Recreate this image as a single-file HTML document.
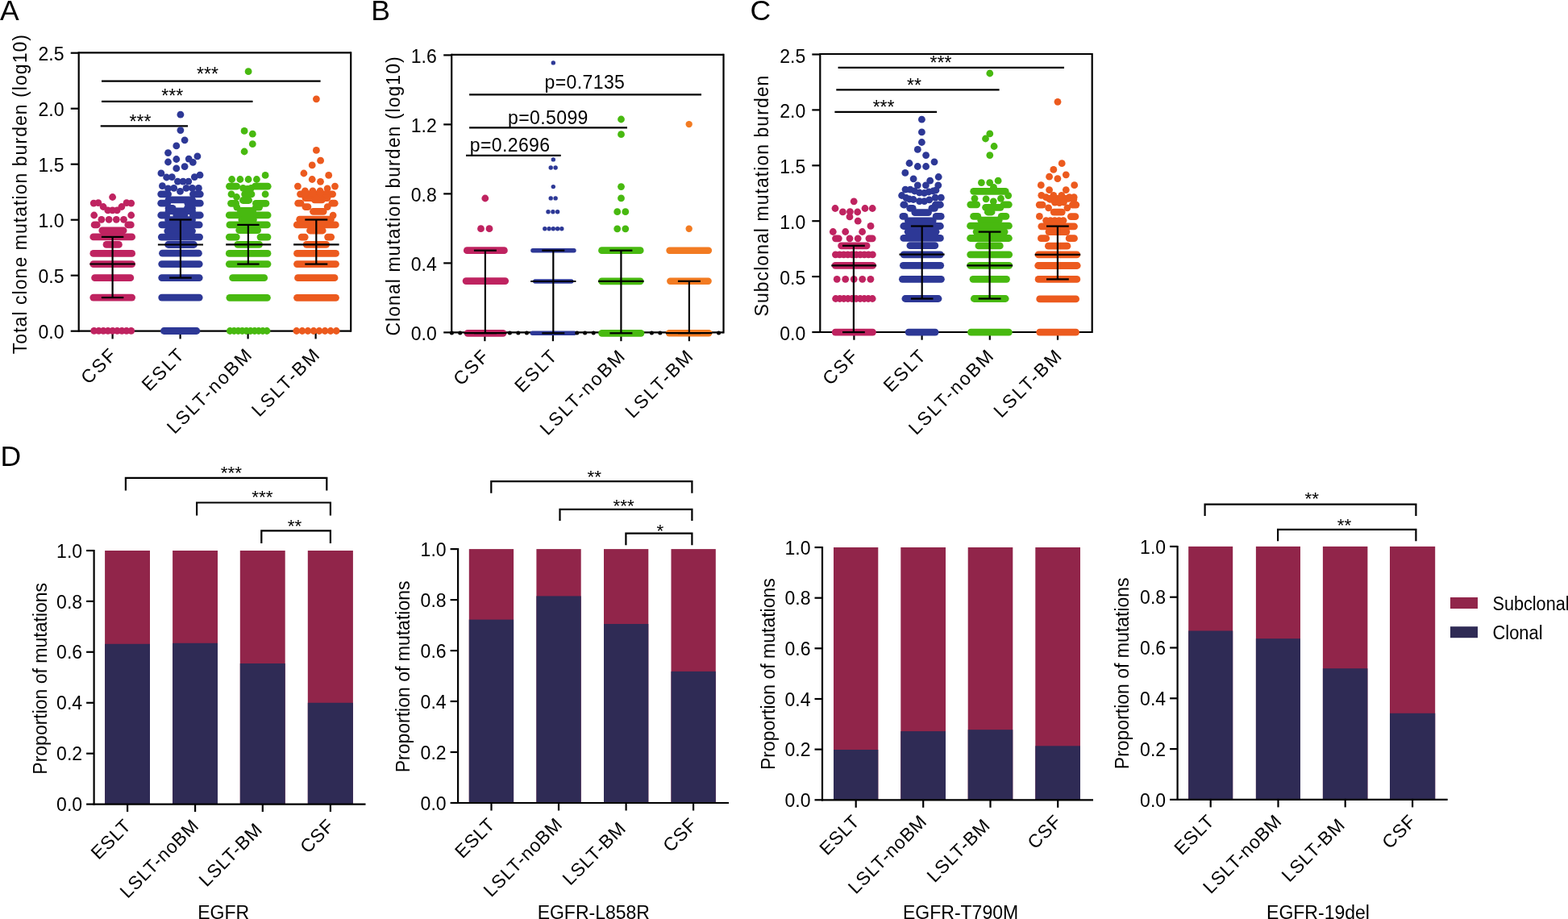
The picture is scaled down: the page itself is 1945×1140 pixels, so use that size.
<!DOCTYPE html>
<html><head><meta charset="utf-8"><style>
html,body{margin:0;padding:0;background:#fff;}
svg{display:block;}
text{font-family:"Liberation Sans", Arial, Helvetica, sans-serif;fill:#000;}
</style></head><body>
<svg width="1945" height="1140" viewBox="0 0 1945 1140">
<rect width="1945" height="1140" fill="#fff"/>
<line x1="97.7" y1="65.3" x2="435.2" y2="65.3" stroke="#000" stroke-width="2.2" stroke-linecap="butt"/>
<line x1="435.2" y1="64.2" x2="435.2" y2="411.8" stroke="#000" stroke-width="2.2" stroke-linecap="butt"/>
<line x1="97.7" y1="410.7" x2="435.2" y2="410.7" stroke="#000" stroke-width="2.2" stroke-linecap="butt"/>
<line x1="97.7" y1="64.2" x2="97.7" y2="411.8" stroke="#000" stroke-width="2.2" stroke-linecap="butt"/>
<line x1="87.7" y1="410.7" x2="97.7" y2="410.7" stroke="#000" stroke-width="2.2" stroke-linecap="butt"/>
<text x="79.5" y="419.9" font-size="23" text-anchor="end">0.0</text>
<line x1="87.7" y1="341.7" x2="97.7" y2="341.7" stroke="#000" stroke-width="2.2" stroke-linecap="butt"/>
<text x="79.5" y="350.9" font-size="23" text-anchor="end">0.5</text>
<line x1="87.7" y1="272.7" x2="97.7" y2="272.7" stroke="#000" stroke-width="2.2" stroke-linecap="butt"/>
<text x="79.5" y="281.9" font-size="23" text-anchor="end">1.0</text>
<line x1="87.7" y1="203.7" x2="97.7" y2="203.7" stroke="#000" stroke-width="2.2" stroke-linecap="butt"/>
<text x="79.5" y="212.9" font-size="23" text-anchor="end">1.5</text>
<line x1="87.7" y1="134.7" x2="97.7" y2="134.7" stroke="#000" stroke-width="2.2" stroke-linecap="butt"/>
<text x="79.5" y="143.9" font-size="23" text-anchor="end">2.0</text>
<line x1="87.7" y1="65.7" x2="97.7" y2="65.7" stroke="#000" stroke-width="2.2" stroke-linecap="butt"/>
<text x="79.5" y="74.9" font-size="23" text-anchor="end">2.5</text>
<line x1="139.6" y1="410.7" x2="139.6" y2="420.4" stroke="#000" stroke-width="2.2" stroke-linecap="butt"/>
<line x1="223.6" y1="410.7" x2="223.6" y2="420.4" stroke="#000" stroke-width="2.2" stroke-linecap="butt"/>
<line x1="307.6" y1="410.7" x2="307.6" y2="420.4" stroke="#000" stroke-width="2.2" stroke-linecap="butt"/>
<line x1="391.6" y1="410.7" x2="391.6" y2="420.4" stroke="#000" stroke-width="2.2" stroke-linecap="butt"/>
<text x="33.2" y="240.6" font-size="23" text-anchor="middle" transform="rotate(-90 33.2 240.6)" letter-spacing="1.05">Total clone mutation burden (log10)</text>
<text x="0.0" y="24.9" font-size="35.5" text-anchor="start">A</text>
<text x="147.0" y="440.6" font-size="23" text-anchor="end" transform="rotate(-45 147.0 440.6)" letter-spacing="2.2">CSF</text>
<text x="231.0" y="440.6" font-size="23" text-anchor="end" transform="rotate(-45 231.0 440.6)" letter-spacing="2.2">ESLT</text>
<text x="315.1" y="440.6" font-size="23" text-anchor="end" transform="rotate(-45 315.1 440.6)" letter-spacing="2.2">LSLT-noBM</text>
<text x="399.1" y="440.6" font-size="23" text-anchor="end" transform="rotate(-45 399.1 440.6)" letter-spacing="2.2">LSLT-BM</text>
<line x1="124.7" y1="156.3" x2="233.0" y2="156.3" stroke="#000" stroke-width="2.2" stroke-linecap="butt"/>
<text x="174.0" y="159.0" font-size="23" text-anchor="middle">***</text>
<line x1="126.0" y1="125.8" x2="313.5" y2="125.8" stroke="#000" stroke-width="2.2" stroke-linecap="butt"/>
<text x="213.8" y="126.9" font-size="23" text-anchor="middle">***</text>
<line x1="126.0" y1="100.6" x2="397.6" y2="100.6" stroke="#000" stroke-width="2.2" stroke-linecap="butt"/>
<text x="257.5" y="100.2" font-size="23" text-anchor="middle">***</text>
<line x1="560.2" y1="67.8" x2="897.5" y2="67.8" stroke="#000" stroke-width="2.2" stroke-linecap="butt"/>
<line x1="897.5" y1="66.7" x2="897.5" y2="413.5" stroke="#000" stroke-width="2.2" stroke-linecap="butt"/>
<line x1="560.2" y1="412.4" x2="897.5" y2="412.4" stroke="#000" stroke-width="2.2" stroke-linecap="butt"/>
<line x1="560.2" y1="66.7" x2="560.2" y2="413.5" stroke="#000" stroke-width="2.2" stroke-linecap="butt"/>
<line x1="550.2" y1="412.4" x2="560.2" y2="412.4" stroke="#000" stroke-width="2.2" stroke-linecap="butt"/>
<text x="541.8" y="421.6" font-size="23" text-anchor="end">0.0</text>
<line x1="550.2" y1="326.4" x2="560.2" y2="326.4" stroke="#000" stroke-width="2.2" stroke-linecap="butt"/>
<text x="541.8" y="335.6" font-size="23" text-anchor="end">0.4</text>
<line x1="550.2" y1="240.4" x2="560.2" y2="240.4" stroke="#000" stroke-width="2.2" stroke-linecap="butt"/>
<text x="541.8" y="249.6" font-size="23" text-anchor="end">0.8</text>
<line x1="550.2" y1="154.4" x2="560.2" y2="154.4" stroke="#000" stroke-width="2.2" stroke-linecap="butt"/>
<text x="541.8" y="163.6" font-size="23" text-anchor="end">1.2</text>
<line x1="550.2" y1="68.4" x2="560.2" y2="68.4" stroke="#000" stroke-width="2.2" stroke-linecap="butt"/>
<text x="541.8" y="77.6" font-size="23" text-anchor="end">1.6</text>
<line x1="601.4" y1="412.4" x2="601.4" y2="423.2" stroke="#000" stroke-width="2.2" stroke-linecap="butt"/>
<line x1="685.9" y1="412.4" x2="685.9" y2="423.2" stroke="#000" stroke-width="2.2" stroke-linecap="butt"/>
<line x1="770.4" y1="412.4" x2="770.4" y2="423.2" stroke="#000" stroke-width="2.2" stroke-linecap="butt"/>
<line x1="854.9" y1="412.4" x2="854.9" y2="423.2" stroke="#000" stroke-width="2.2" stroke-linecap="butt"/>
<text x="496.1" y="242.9" font-size="23" text-anchor="middle" transform="rotate(-90 496.1 242.9)" letter-spacing="1.05">Clonal mutation burden (log10)</text>
<text x="460.3" y="24.9" font-size="35.5" text-anchor="start">B</text>
<text x="608.9" y="442.3" font-size="23" text-anchor="end" transform="rotate(-45 608.9 442.3)" letter-spacing="2.2">CSF</text>
<text x="693.4" y="442.3" font-size="23" text-anchor="end" transform="rotate(-45 693.4 442.3)" letter-spacing="2.2">ESLT</text>
<text x="777.9" y="442.3" font-size="23" text-anchor="end" transform="rotate(-45 777.9 442.3)" letter-spacing="2.2">LSLT-noBM</text>
<text x="862.4" y="442.3" font-size="23" text-anchor="end" transform="rotate(-45 862.4 442.3)" letter-spacing="2.2">LSLT-BM</text>
<line x1="578.0" y1="192.9" x2="695.7" y2="192.9" stroke="#000" stroke-width="2.2" stroke-linecap="butt"/>
<text x="582.7" y="188.0" font-size="23" text-anchor="start" letter-spacing="0.4">p=0.2696</text>
<line x1="582.1" y1="158.3" x2="778.0" y2="158.3" stroke="#000" stroke-width="2.2" stroke-linecap="butt"/>
<text x="630.0" y="154.0" font-size="23" text-anchor="start" letter-spacing="0.4">p=0.5099</text>
<line x1="582.1" y1="117.3" x2="870.0" y2="117.3" stroke="#000" stroke-width="2.2" stroke-linecap="butt"/>
<text x="675.5" y="110.0" font-size="23" text-anchor="start" letter-spacing="0.4">p=0.7135</text>
<line x1="1017.3" y1="67.0" x2="1354.7" y2="67.0" stroke="#000" stroke-width="2.2" stroke-linecap="butt"/>
<line x1="1354.7" y1="65.9" x2="1354.7" y2="413.1" stroke="#000" stroke-width="2.2" stroke-linecap="butt"/>
<line x1="1017.3" y1="412.0" x2="1354.7" y2="412.0" stroke="#000" stroke-width="2.2" stroke-linecap="butt"/>
<line x1="1017.3" y1="65.9" x2="1017.3" y2="413.1" stroke="#000" stroke-width="2.2" stroke-linecap="butt"/>
<line x1="1007.3" y1="412.0" x2="1017.3" y2="412.0" stroke="#000" stroke-width="2.2" stroke-linecap="butt"/>
<text x="999.2" y="422.0" font-size="23" text-anchor="end">0.0</text>
<line x1="1007.3" y1="343.1" x2="1017.3" y2="343.1" stroke="#000" stroke-width="2.2" stroke-linecap="butt"/>
<text x="999.2" y="353.1" font-size="23" text-anchor="end">0.5</text>
<line x1="1007.3" y1="274.2" x2="1017.3" y2="274.2" stroke="#000" stroke-width="2.2" stroke-linecap="butt"/>
<text x="999.2" y="284.2" font-size="23" text-anchor="end">1.0</text>
<line x1="1007.3" y1="205.3" x2="1017.3" y2="205.3" stroke="#000" stroke-width="2.2" stroke-linecap="butt"/>
<text x="999.2" y="215.3" font-size="23" text-anchor="end">1.5</text>
<line x1="1007.3" y1="136.4" x2="1017.3" y2="136.4" stroke="#000" stroke-width="2.2" stroke-linecap="butt"/>
<text x="999.2" y="146.4" font-size="23" text-anchor="end">2.0</text>
<line x1="1007.3" y1="67.5" x2="1017.3" y2="67.5" stroke="#000" stroke-width="2.2" stroke-linecap="butt"/>
<text x="999.2" y="77.5" font-size="23" text-anchor="end">2.5</text>
<line x1="1059.4" y1="412.0" x2="1059.4" y2="421.7" stroke="#000" stroke-width="2.2" stroke-linecap="butt"/>
<line x1="1143.6" y1="412.0" x2="1143.6" y2="421.7" stroke="#000" stroke-width="2.2" stroke-linecap="butt"/>
<line x1="1227.8" y1="412.0" x2="1227.8" y2="421.7" stroke="#000" stroke-width="2.2" stroke-linecap="butt"/>
<line x1="1312.0" y1="412.0" x2="1312.0" y2="421.7" stroke="#000" stroke-width="2.2" stroke-linecap="butt"/>
<text x="953.2" y="242.5" font-size="23" text-anchor="middle" transform="rotate(-90 953.2 242.5)" letter-spacing="1.05">Subclonal mutation burden</text>
<text x="930.5" y="24.9" font-size="35.5" text-anchor="start">C</text>
<text x="1066.9" y="441.9" font-size="23" text-anchor="end" transform="rotate(-45 1066.9 441.9)" letter-spacing="2.2">CSF</text>
<text x="1151.0" y="441.9" font-size="23" text-anchor="end" transform="rotate(-45 1151.0 441.9)" letter-spacing="2.2">ESLT</text>
<text x="1235.2" y="441.9" font-size="23" text-anchor="end" transform="rotate(-45 1235.2 441.9)" letter-spacing="2.2">LSLT-noBM</text>
<text x="1319.5" y="441.9" font-size="23" text-anchor="end" transform="rotate(-45 1319.5 441.9)" letter-spacing="2.2">LSLT-BM</text>
<line x1="1035.4" y1="138.8" x2="1162.1" y2="138.8" stroke="#000" stroke-width="2.2" stroke-linecap="butt"/>
<text x="1096.1" y="141.3" font-size="23" text-anchor="middle">***</text>
<line x1="1037.3" y1="111.4" x2="1239.6" y2="111.4" stroke="#000" stroke-width="2.2" stroke-linecap="butt"/>
<text x="1134.0" y="114.3" font-size="23" text-anchor="middle">**</text>
<line x1="1039.6" y1="83.8" x2="1320.0" y2="83.8" stroke="#000" stroke-width="2.2" stroke-linecap="butt"/>
<text x="1167.0" y="85.8" font-size="23" text-anchor="middle">***</text>
<rect x="130.1" y="683.0" width="55.9" height="314.6" fill="#91254a"/>
<rect x="130.1" y="798.8" width="55.9" height="198.8" fill="#2f2b55"/>
<rect x="214.1" y="683.0" width="55.9" height="314.6" fill="#91254a"/>
<rect x="214.1" y="797.8" width="55.9" height="199.8" fill="#2f2b55"/>
<rect x="297.8" y="683.0" width="55.9" height="314.6" fill="#91254a"/>
<rect x="297.8" y="823.0" width="55.9" height="174.6" fill="#2f2b55"/>
<rect x="381.8" y="683.0" width="56.1" height="314.6" fill="#91254a"/>
<rect x="381.8" y="871.8" width="56.1" height="125.8" fill="#2f2b55"/>
<line x1="116.6" y1="682.0" x2="116.6" y2="998.7" stroke="#000" stroke-width="2.2" stroke-linecap="butt"/>
<line x1="115.6" y1="997.6" x2="453.5" y2="997.6" stroke="#000" stroke-width="2.2" stroke-linecap="butt"/>
<line x1="107.1" y1="997.6" x2="116.6" y2="997.6" stroke="#000" stroke-width="2.2" stroke-linecap="butt"/>
<text x="102.1" y="1006.2" font-size="23" text-anchor="end">0.0</text>
<line x1="107.1" y1="934.7" x2="116.6" y2="934.7" stroke="#000" stroke-width="2.2" stroke-linecap="butt"/>
<text x="102.1" y="943.3" font-size="23" text-anchor="end">0.2</text>
<line x1="107.1" y1="871.8" x2="116.6" y2="871.8" stroke="#000" stroke-width="2.2" stroke-linecap="butt"/>
<text x="102.1" y="880.4" font-size="23" text-anchor="end">0.4</text>
<line x1="107.1" y1="808.8" x2="116.6" y2="808.8" stroke="#000" stroke-width="2.2" stroke-linecap="butt"/>
<text x="102.1" y="817.4" font-size="23" text-anchor="end">0.6</text>
<line x1="107.1" y1="745.9" x2="116.6" y2="745.9" stroke="#000" stroke-width="2.2" stroke-linecap="butt"/>
<text x="102.1" y="754.5" font-size="23" text-anchor="end">0.8</text>
<line x1="107.1" y1="683.0" x2="116.6" y2="683.0" stroke="#000" stroke-width="2.2" stroke-linecap="butt"/>
<text x="102.1" y="691.6" font-size="23" text-anchor="end">1.0</text>
<line x1="158.1" y1="997.6" x2="158.1" y2="1007.1" stroke="#000" stroke-width="2.2" stroke-linecap="butt"/>
<line x1="242.1" y1="997.6" x2="242.1" y2="1007.1" stroke="#000" stroke-width="2.2" stroke-linecap="butt"/>
<line x1="325.8" y1="997.6" x2="325.8" y2="1007.1" stroke="#000" stroke-width="2.2" stroke-linecap="butt"/>
<line x1="409.9" y1="997.6" x2="409.9" y2="1007.1" stroke="#000" stroke-width="2.2" stroke-linecap="butt"/>
<text x="164.1" y="1025.6" font-size="23" text-anchor="end" transform="rotate(-45 164.1 1025.6)" letter-spacing="0.8">ESLT</text>
<text x="248.1" y="1025.6" font-size="23" text-anchor="end" transform="rotate(-45 248.1 1025.6)" letter-spacing="0.8">LSLT-noBM</text>
<text x="326.9" y="1030.4" font-size="23" text-anchor="end" transform="rotate(-45 326.9 1030.4)" letter-spacing="0.8">LSLT-BM</text>
<text x="415.9" y="1025.6" font-size="23" text-anchor="end" transform="rotate(-45 415.9 1025.6)" letter-spacing="0.8">CSF</text>
<text x="277.2" y="1139.5" font-size="23" text-anchor="middle">EGFR</text>
<text x="57.6" y="960.7" font-size="23" text-anchor="start" transform="rotate(-90 57.6 960.7)">Proportion of mutations</text>
<polyline points="155.9,608.6 155.9,592.9 405.3,592.9 405.3,608.6" fill="none" stroke="#000" stroke-width="2.2" stroke-linejoin="miter"/>
<text x="287.0" y="593.8" font-size="22.5" text-anchor="middle">***</text>
<polyline points="244.1,639.4 244.1,623.5 409.9,623.5 409.9,639.4" fill="none" stroke="#000" stroke-width="2.2" stroke-linejoin="miter"/>
<text x="325.5" y="623.8" font-size="22.5" text-anchor="middle">***</text>
<polyline points="324.3,674.1 324.3,658.3 409.9,658.3 409.9,674.1" fill="none" stroke="#000" stroke-width="2.2" stroke-linejoin="miter"/>
<text x="365.6" y="660.3" font-size="22.5" text-anchor="middle">**</text>
<rect x="581.8" y="681.1" width="55.3" height="314.9" fill="#91254a"/>
<rect x="581.8" y="768.6" width="55.3" height="227.4" fill="#2f2b55"/>
<rect x="665.4" y="681.1" width="55.3" height="314.9" fill="#91254a"/>
<rect x="665.4" y="739.4" width="55.3" height="256.6" fill="#2f2b55"/>
<rect x="749.0" y="681.1" width="55.3" height="314.9" fill="#91254a"/>
<rect x="749.0" y="774.0" width="55.3" height="222.0" fill="#2f2b55"/>
<rect x="832.5" y="681.1" width="55.3" height="314.9" fill="#91254a"/>
<rect x="832.5" y="832.9" width="55.3" height="163.1" fill="#2f2b55"/>
<line x1="568.1" y1="680.1" x2="568.1" y2="997.1" stroke="#000" stroke-width="2.2" stroke-linecap="butt"/>
<line x1="567.1" y1="996.0" x2="904.0" y2="996.0" stroke="#000" stroke-width="2.2" stroke-linecap="butt"/>
<line x1="558.6" y1="996.0" x2="568.1" y2="996.0" stroke="#000" stroke-width="2.2" stroke-linecap="butt"/>
<text x="553.6" y="1004.6" font-size="23" text-anchor="end">0.0</text>
<line x1="558.6" y1="933.0" x2="568.1" y2="933.0" stroke="#000" stroke-width="2.2" stroke-linecap="butt"/>
<text x="553.6" y="941.6" font-size="23" text-anchor="end">0.2</text>
<line x1="558.6" y1="870.0" x2="568.1" y2="870.0" stroke="#000" stroke-width="2.2" stroke-linecap="butt"/>
<text x="553.6" y="878.6" font-size="23" text-anchor="end">0.4</text>
<line x1="558.6" y1="807.1" x2="568.1" y2="807.1" stroke="#000" stroke-width="2.2" stroke-linecap="butt"/>
<text x="553.6" y="815.7" font-size="23" text-anchor="end">0.6</text>
<line x1="558.6" y1="744.1" x2="568.1" y2="744.1" stroke="#000" stroke-width="2.2" stroke-linecap="butt"/>
<text x="553.6" y="752.7" font-size="23" text-anchor="end">0.8</text>
<line x1="558.6" y1="681.1" x2="568.1" y2="681.1" stroke="#000" stroke-width="2.2" stroke-linecap="butt"/>
<text x="553.6" y="689.7" font-size="23" text-anchor="end">1.0</text>
<line x1="609.5" y1="996.0" x2="609.5" y2="1005.5" stroke="#000" stroke-width="2.2" stroke-linecap="butt"/>
<line x1="693.0" y1="996.0" x2="693.0" y2="1005.5" stroke="#000" stroke-width="2.2" stroke-linecap="butt"/>
<line x1="776.6" y1="996.0" x2="776.6" y2="1005.5" stroke="#000" stroke-width="2.2" stroke-linecap="butt"/>
<line x1="860.1" y1="996.0" x2="860.1" y2="1005.5" stroke="#000" stroke-width="2.2" stroke-linecap="butt"/>
<text x="615.5" y="1024.0" font-size="23" text-anchor="end" transform="rotate(-45 615.5 1024.0)" letter-spacing="0.8">ESLT</text>
<text x="699.0" y="1024.0" font-size="23" text-anchor="end" transform="rotate(-45 699.0 1024.0)" letter-spacing="0.8">LSLT-noBM</text>
<text x="777.9" y="1028.8" font-size="23" text-anchor="end" transform="rotate(-45 777.9 1028.8)" letter-spacing="0.8">LSLT-BM</text>
<text x="866.1" y="1024.0" font-size="23" text-anchor="end" transform="rotate(-45 866.1 1024.0)" letter-spacing="0.8">CSF</text>
<text x="736.3" y="1139.5" font-size="23" text-anchor="middle">EGFR-L858R</text>
<text x="507.6" y="958.3" font-size="23" text-anchor="start" transform="rotate(-90 507.6 958.3)">Proportion of mutations</text>
<polyline points="609.3,611.7 609.3,597.1 858.4,597.1 858.4,611.7" fill="none" stroke="#000" stroke-width="2.2" stroke-linejoin="miter"/>
<text x="737.3" y="599.0" font-size="22.5" text-anchor="middle">**</text>
<polyline points="694.5,646.0 694.5,631.9 858.4,631.9 858.4,646.0" fill="none" stroke="#000" stroke-width="2.2" stroke-linejoin="miter"/>
<text x="773.6" y="635.0" font-size="22.5" text-anchor="middle">***</text>
<polyline points="776.4,676.3 776.4,661.7 858.4,661.7 858.4,676.3" fill="none" stroke="#000" stroke-width="2.2" stroke-linejoin="miter"/>
<text x="818.8" y="665.5" font-size="22.5" text-anchor="middle">*</text>
<rect x="1034.0" y="679.0" width="55.3" height="313.3" fill="#91254a"/>
<rect x="1034.0" y="930.0" width="55.3" height="62.3" fill="#2f2b55"/>
<rect x="1117.3" y="679.0" width="55.7" height="313.3" fill="#91254a"/>
<rect x="1117.3" y="907.1" width="55.7" height="85.2" fill="#2f2b55"/>
<rect x="1200.7" y="679.0" width="55.6" height="313.3" fill="#91254a"/>
<rect x="1200.7" y="905.2" width="55.6" height="87.1" fill="#2f2b55"/>
<rect x="1284.3" y="679.0" width="55.7" height="313.3" fill="#91254a"/>
<rect x="1284.3" y="925.3" width="55.7" height="67.0" fill="#2f2b55"/>
<line x1="1020.0" y1="678.0" x2="1020.0" y2="993.4" stroke="#000" stroke-width="2.2" stroke-linecap="butt"/>
<line x1="1019.0" y1="992.3" x2="1356.0" y2="992.3" stroke="#000" stroke-width="2.2" stroke-linecap="butt"/>
<line x1="1010.5" y1="992.3" x2="1020.0" y2="992.3" stroke="#000" stroke-width="2.2" stroke-linecap="butt"/>
<text x="1005.5" y="1000.9" font-size="23" text-anchor="end">0.0</text>
<line x1="1010.5" y1="929.6" x2="1020.0" y2="929.6" stroke="#000" stroke-width="2.2" stroke-linecap="butt"/>
<text x="1005.5" y="938.2" font-size="23" text-anchor="end">0.2</text>
<line x1="1010.5" y1="867.0" x2="1020.0" y2="867.0" stroke="#000" stroke-width="2.2" stroke-linecap="butt"/>
<text x="1005.5" y="875.6" font-size="23" text-anchor="end">0.4</text>
<line x1="1010.5" y1="804.3" x2="1020.0" y2="804.3" stroke="#000" stroke-width="2.2" stroke-linecap="butt"/>
<text x="1005.5" y="812.9" font-size="23" text-anchor="end">0.6</text>
<line x1="1010.5" y1="741.7" x2="1020.0" y2="741.7" stroke="#000" stroke-width="2.2" stroke-linecap="butt"/>
<text x="1005.5" y="750.3" font-size="23" text-anchor="end">0.8</text>
<line x1="1010.5" y1="679.0" x2="1020.0" y2="679.0" stroke="#000" stroke-width="2.2" stroke-linecap="butt"/>
<text x="1005.5" y="687.6" font-size="23" text-anchor="end">1.0</text>
<line x1="1061.7" y1="992.3" x2="1061.7" y2="1001.8" stroke="#000" stroke-width="2.2" stroke-linecap="butt"/>
<line x1="1145.2" y1="992.3" x2="1145.2" y2="1001.8" stroke="#000" stroke-width="2.2" stroke-linecap="butt"/>
<line x1="1228.5" y1="992.3" x2="1228.5" y2="1001.8" stroke="#000" stroke-width="2.2" stroke-linecap="butt"/>
<line x1="1312.2" y1="992.3" x2="1312.2" y2="1001.8" stroke="#000" stroke-width="2.2" stroke-linecap="butt"/>
<text x="1067.7" y="1020.3" font-size="23" text-anchor="end" transform="rotate(-45 1067.7 1020.3)" letter-spacing="0.8">ESLT</text>
<text x="1151.2" y="1020.3" font-size="23" text-anchor="end" transform="rotate(-45 1151.2 1020.3)" letter-spacing="0.8">LSLT-noBM</text>
<text x="1229.7" y="1025.1" font-size="23" text-anchor="end" transform="rotate(-45 1229.7 1025.1)" letter-spacing="0.8">LSLT-BM</text>
<text x="1318.2" y="1020.3" font-size="23" text-anchor="end" transform="rotate(-45 1318.2 1020.3)" letter-spacing="0.8">CSF</text>
<text x="1191.6" y="1139.5" font-size="23" text-anchor="middle">EGFR-T790M</text>
<text x="961.4" y="955.0" font-size="23" text-anchor="start" transform="rotate(-90 961.4 955.0)">Proportion of mutations</text>
<rect x="1474.2" y="677.9" width="55.0" height="314.0" fill="#91254a"/>
<rect x="1474.2" y="782.5" width="55.0" height="209.4" fill="#2f2b55"/>
<rect x="1557.9" y="677.9" width="55.1" height="314.0" fill="#91254a"/>
<rect x="1557.9" y="792.2" width="55.1" height="199.7" fill="#2f2b55"/>
<rect x="1640.9" y="677.9" width="55.5" height="314.0" fill="#91254a"/>
<rect x="1640.9" y="829.2" width="55.5" height="162.7" fill="#2f2b55"/>
<rect x="1724.0" y="677.9" width="56.2" height="314.0" fill="#91254a"/>
<rect x="1724.0" y="884.8" width="56.2" height="107.1" fill="#2f2b55"/>
<line x1="1460.6" y1="676.9" x2="1460.6" y2="993.0" stroke="#000" stroke-width="2.2" stroke-linecap="butt"/>
<line x1="1459.6" y1="991.9" x2="1795.7" y2="991.9" stroke="#000" stroke-width="2.2" stroke-linecap="butt"/>
<line x1="1451.1" y1="991.9" x2="1460.6" y2="991.9" stroke="#000" stroke-width="2.2" stroke-linecap="butt"/>
<text x="1446.1" y="1000.5" font-size="23" text-anchor="end">0.0</text>
<line x1="1451.1" y1="929.1" x2="1460.6" y2="929.1" stroke="#000" stroke-width="2.2" stroke-linecap="butt"/>
<text x="1446.1" y="937.7" font-size="23" text-anchor="end">0.2</text>
<line x1="1451.1" y1="866.3" x2="1460.6" y2="866.3" stroke="#000" stroke-width="2.2" stroke-linecap="butt"/>
<text x="1446.1" y="874.9" font-size="23" text-anchor="end">0.4</text>
<line x1="1451.1" y1="803.5" x2="1460.6" y2="803.5" stroke="#000" stroke-width="2.2" stroke-linecap="butt"/>
<text x="1446.1" y="812.1" font-size="23" text-anchor="end">0.6</text>
<line x1="1451.1" y1="740.7" x2="1460.6" y2="740.7" stroke="#000" stroke-width="2.2" stroke-linecap="butt"/>
<text x="1446.1" y="749.3" font-size="23" text-anchor="end">0.8</text>
<line x1="1451.1" y1="677.9" x2="1460.6" y2="677.9" stroke="#000" stroke-width="2.2" stroke-linecap="butt"/>
<text x="1446.1" y="686.5" font-size="23" text-anchor="end">1.0</text>
<line x1="1501.7" y1="991.9" x2="1501.7" y2="1001.4" stroke="#000" stroke-width="2.2" stroke-linecap="butt"/>
<line x1="1585.5" y1="991.9" x2="1585.5" y2="1001.4" stroke="#000" stroke-width="2.2" stroke-linecap="butt"/>
<line x1="1668.7" y1="991.9" x2="1668.7" y2="1001.4" stroke="#000" stroke-width="2.2" stroke-linecap="butt"/>
<line x1="1752.1" y1="991.9" x2="1752.1" y2="1001.4" stroke="#000" stroke-width="2.2" stroke-linecap="butt"/>
<text x="1507.7" y="1019.9" font-size="23" text-anchor="end" transform="rotate(-45 1507.7 1019.9)" letter-spacing="0.8">ESLT</text>
<text x="1591.5" y="1019.9" font-size="23" text-anchor="end" transform="rotate(-45 1591.5 1019.9)" letter-spacing="0.8">LSLT-noBM</text>
<text x="1669.9" y="1024.7" font-size="23" text-anchor="end" transform="rotate(-45 1669.9 1024.7)" letter-spacing="0.8">LSLT-BM</text>
<text x="1758.1" y="1019.9" font-size="23" text-anchor="end" transform="rotate(-45 1758.1 1019.9)" letter-spacing="0.8">CSF</text>
<text x="1635.0" y="1139.5" font-size="23" text-anchor="middle">EGFR-19del</text>
<text x="1399.9" y="954.2" font-size="23" text-anchor="start" transform="rotate(-90 1399.9 954.2)">Proportion of mutations</text>
<polyline points="1494.6,640.0 1494.6,625.6 1756.4,625.6 1756.4,640.0" fill="none" stroke="#000" stroke-width="2.2" stroke-linejoin="miter"/>
<text x="1627.2" y="625.8" font-size="22.5" text-anchor="middle">**</text>
<polyline points="1585.1,671.3 1585.1,656.8 1756.4,656.8 1756.4,671.3" fill="none" stroke="#000" stroke-width="2.2" stroke-linejoin="miter"/>
<text x="1667.5" y="658.5" font-size="22.5" text-anchor="middle">**</text>
<text x="0.6" y="577.9" font-size="35.5" text-anchor="start">D</text>
<rect x="1799.0" y="741.0" width="34.0" height="14.0" fill="#91254a"/>
<rect x="1799.0" y="777.2" width="34.0" height="14.0" fill="#2f2b55"/>
<text x="1851.5" y="756.7" font-size="23" text-anchor="start" textLength="95" lengthAdjust="spacingAndGlyphs">Subclonal</text>
<text x="1851.5" y="793.0" font-size="23" text-anchor="start" textLength="62" lengthAdjust="spacingAndGlyphs">Clonal</text>
<g fill="#bf2360" stroke="#bf2360" stroke-linecap="round" stroke-width="0"><line x1="117.1" y1="278.9" x2="120.2" y2="278.9" stroke-width="8.8"/><line x1="158.8" y1="278.9" x2="162.3" y2="278.9" stroke-width="8.8"/><line x1="126.8" y1="285.9" x2="153.1" y2="285.9" stroke-width="8.8"/><line x1="115.8" y1="293.9" x2="163.6" y2="293.9" stroke-width="8.8"/><line x1="132.0" y1="303.4" x2="147.4" y2="303.4" stroke-width="8.8"/><line x1="115.8" y1="314.4" x2="163.6" y2="314.4" stroke-width="8.8"/><line x1="115.8" y1="327.6" x2="163.6" y2="327.6" stroke-width="8.8"/><line x1="117.6" y1="344.7" x2="161.8" y2="344.7" stroke-width="8.8"/><line x1="115.8" y1="369.1" x2="163.6" y2="369.1" stroke-width="8.8"/><circle cx="116.7" cy="410.4" r="4.4"/><circle cx="122.5" cy="410.4" r="4.4"/><circle cx="128.2" cy="410.4" r="4.4"/><circle cx="133.9" cy="410.4" r="4.4"/><circle cx="139.7" cy="410.4" r="4.4"/><circle cx="145.4" cy="410.4" r="4.4"/><circle cx="151.2" cy="410.4" r="4.4"/><circle cx="156.9" cy="410.4" r="4.4"/><circle cx="162.7" cy="410.4" r="4.4"/><circle cx="139.6" cy="244.5" r="4.4"/><circle cx="116.2" cy="252.1" r="4.4"/><circle cx="121.9" cy="251.7" r="4.4"/><circle cx="128.1" cy="256.5" r="4.4"/><circle cx="133.8" cy="260.9" r="4.4"/><circle cx="139.5" cy="260.9" r="4.4"/><circle cx="145.2" cy="260.9" r="4.4"/><circle cx="150.9" cy="256.5" r="4.4"/><circle cx="157.0" cy="251.7" r="4.4"/><circle cx="162.7" cy="252.1" r="4.4"/><circle cx="116.7" cy="267.0" r="4.4"/><circle cx="162.7" cy="267.0" r="4.4"/><circle cx="125.9" cy="272.3" r="4.4"/><circle cx="135.1" cy="272.3" r="4.4"/><circle cx="144.3" cy="272.3" r="4.4"/><circle cx="153.5" cy="272.3" r="4.4"/></g>
<g fill="#2d3896" stroke="#2d3896" stroke-linecap="round" stroke-width="0"><line x1="199.7" y1="240.8" x2="208.6" y2="240.8" stroke-width="8.8"/><line x1="239.4" y1="240.8" x2="248.3" y2="240.8" stroke-width="8.8"/><line x1="209.1" y1="247.8" x2="238.5" y2="247.8" stroke-width="8.8"/><line x1="199.7" y1="252.2" x2="207.6" y2="252.2" stroke-width="8.8"/><line x1="232.9" y1="252.2" x2="248.3" y2="252.2" stroke-width="8.8"/><line x1="209.1" y1="258.3" x2="214.1" y2="258.3" stroke-width="8.8"/><line x1="232.4" y1="258.3" x2="238.5" y2="258.3" stroke-width="8.8"/><line x1="209.1" y1="261.8" x2="238.5" y2="261.8" stroke-width="8.8"/><line x1="199.7" y1="267.0" x2="206.6" y2="267.0" stroke-width="8.8"/><line x1="239.4" y1="267.0" x2="248.3" y2="267.0" stroke-width="8.8"/><line x1="218.8" y1="266.9" x2="228.8" y2="266.9" stroke-width="8.8"/><line x1="208.6" y1="272.7" x2="238.5" y2="272.7" stroke-width="8.8"/><line x1="200.7" y1="278.8" x2="247.2" y2="278.8" stroke-width="8.8"/><line x1="207.8" y1="286.6" x2="238.5" y2="286.6" stroke-width="8.8"/><line x1="200.3" y1="294.1" x2="247.6" y2="294.1" stroke-width="8.8"/><line x1="208.6" y1="303.5" x2="240.5" y2="303.5" stroke-width="8.8"/><line x1="201.5" y1="314.2" x2="246.4" y2="314.2" stroke-width="8.8"/><line x1="200.7" y1="327.6" x2="247.2" y2="327.6" stroke-width="8.8"/><line x1="200.7" y1="344.6" x2="247.2" y2="344.6" stroke-width="8.8"/><line x1="200.7" y1="369.1" x2="247.2" y2="369.1" stroke-width="8.8"/><line x1="203.4" y1="410.5" x2="243.9" y2="410.5" stroke-width="8.8"/><circle cx="223.9" cy="142.2" r="4.4"/><circle cx="223.9" cy="161.6" r="4.4"/><circle cx="229.1" cy="173.8" r="4.4"/><circle cx="218.8" cy="180.9" r="4.4"/><circle cx="208.5" cy="189.6" r="4.4"/><circle cx="208.5" cy="201.0" r="4.4"/><circle cx="218.8" cy="197.5" r="4.4"/><circle cx="234.2" cy="197.1" r="4.4"/><circle cx="239.3" cy="201.4" r="4.4"/><circle cx="244.9" cy="193.9" r="4.4"/><circle cx="218.8" cy="208.9" r="4.4"/><circle cx="229.1" cy="206.6" r="4.4"/><circle cx="199.9" cy="214.9" r="4.4"/><circle cx="206.6" cy="220.0" r="4.4"/><circle cx="213.3" cy="219.6" r="4.4"/><circle cx="220.4" cy="225.1" r="4.4"/><circle cx="227.1" cy="225.1" r="4.4"/><circle cx="233.8" cy="225.1" r="4.4"/><circle cx="241.3" cy="219.6" r="4.4"/><circle cx="248.0" cy="217.2" r="4.4"/><circle cx="201.4" cy="230.7" r="4.4"/><circle cx="208.5" cy="233.8" r="4.4"/><circle cx="215.7" cy="233.4" r="4.4"/><circle cx="223.5" cy="237.4" r="4.4"/><circle cx="231.0" cy="233.4" r="4.4"/><circle cx="238.5" cy="233.4" r="4.4"/><circle cx="246.4" cy="233.4" r="4.4"/></g>
<g fill="#48b910" stroke="#48b910" stroke-linecap="round" stroke-width="0"><line x1="284.5" y1="231.2" x2="293.6" y2="231.2" stroke-width="8.8"/><line x1="316.4" y1="231.2" x2="332.2" y2="231.2" stroke-width="8.8"/><line x1="303.6" y1="240.9" x2="312.0" y2="240.9" stroke-width="8.8"/><line x1="301.4" y1="248.5" x2="308.6" y2="248.5" stroke-width="8.8"/><line x1="286.5" y1="252.3" x2="292.6" y2="252.3" stroke-width="8.8"/><line x1="317.4" y1="252.3" x2="329.9" y2="252.3" stroke-width="8.8"/><circle cx="293.8" cy="257.1" r="4.4"/><line x1="317.4" y1="257.1" x2="321.6" y2="257.1" stroke-width="8.8"/><line x1="298.4" y1="261.5" x2="313.6" y2="261.5" stroke-width="8.8"/><line x1="284.3" y1="266.9" x2="332.1" y2="266.9" stroke-width="8.8"/><line x1="299.9" y1="272.6" x2="314.4" y2="272.6" stroke-width="8.8"/><line x1="284.9" y1="278.9" x2="331.4" y2="278.9" stroke-width="8.8"/><line x1="296.7" y1="285.6" x2="319.6" y2="285.6" stroke-width="8.8"/><line x1="284.3" y1="294.1" x2="293.3" y2="294.1" stroke-width="8.8"/><line x1="323.0" y1="294.1" x2="332.0" y2="294.1" stroke-width="8.8"/><line x1="294.8" y1="303.3" x2="321.6" y2="303.3" stroke-width="8.8"/><line x1="284.3" y1="314.4" x2="332.0" y2="314.4" stroke-width="8.8"/><line x1="284.3" y1="327.6" x2="332.0" y2="327.6" stroke-width="8.8"/><line x1="288.6" y1="344.7" x2="327.7" y2="344.7" stroke-width="8.8"/><line x1="284.9" y1="369.3" x2="331.4" y2="369.3" stroke-width="8.8"/><circle cx="285.3" cy="410.5" r="4.4"/><circle cx="290.4" cy="410.5" r="4.4"/><circle cx="295.5" cy="410.5" r="4.4"/><circle cx="300.5" cy="410.5" r="4.4"/><circle cx="305.6" cy="410.5" r="4.4"/><circle cx="310.7" cy="410.5" r="4.4"/><circle cx="315.8" cy="410.5" r="4.4"/><circle cx="320.8" cy="410.5" r="4.4"/><circle cx="325.9" cy="410.5" r="4.4"/><circle cx="331.0" cy="410.5" r="4.4"/><circle cx="308.1" cy="88.7" r="4.4"/><circle cx="303.1" cy="162.4" r="4.4"/><circle cx="313.3" cy="166.2" r="4.4"/><circle cx="313.3" cy="178.7" r="4.4"/><circle cx="303.1" cy="188.0" r="4.4"/><circle cx="329.1" cy="217.4" r="4.4"/><circle cx="287.6" cy="222.5" r="4.4"/><circle cx="297.9" cy="222.5" r="4.4"/><circle cx="308.1" cy="222.5" r="4.4"/><circle cx="318.4" cy="222.5" r="4.4"/><circle cx="287.0" cy="240.9" r="4.4"/><circle cx="329.1" cy="240.9" r="4.4"/><circle cx="301.5" cy="233.3" r="4.4"/><circle cx="307.0" cy="234.3" r="4.4"/><circle cx="311.5" cy="233.3" r="4.4"/><circle cx="293.5" cy="244.5" r="4.4"/></g>
<g fill="#ec5a1e" stroke="#ec5a1e" stroke-linecap="round" stroke-width="0"><line x1="372.5" y1="240.8" x2="412.6" y2="240.8" stroke-width="8.8"/><line x1="378.9" y1="245.6" x2="406.0" y2="245.6" stroke-width="8.8"/><line x1="390.2" y1="247.9" x2="399.5" y2="247.9" stroke-width="8.8"/><line x1="369.7" y1="252.2" x2="373.1" y2="252.2" stroke-width="8.8"/><line x1="411.8" y1="252.2" x2="415.2" y2="252.2" stroke-width="8.8"/><line x1="378.9" y1="256.6" x2="381.9" y2="256.6" stroke-width="8.8"/><circle cx="406.2" cy="256.6" r="4.4"/><line x1="388.5" y1="262.3" x2="401.2" y2="262.3" stroke-width="8.8"/><line x1="371.7" y1="272.2" x2="410.4" y2="272.2" stroke-width="8.8"/><line x1="368.3" y1="278.9" x2="416.3" y2="278.9" stroke-width="8.8"/><line x1="384.5" y1="286.0" x2="400.2" y2="286.0" stroke-width="8.8"/><line x1="374.1" y1="294.1" x2="378.2" y2="294.1" stroke-width="8.8"/><line x1="406.6" y1="294.1" x2="410.7" y2="294.1" stroke-width="8.8"/><line x1="380.2" y1="303.3" x2="404.6" y2="303.3" stroke-width="8.8"/><line x1="368.5" y1="314.4" x2="416.5" y2="314.4" stroke-width="8.8"/><line x1="368.5" y1="327.6" x2="416.5" y2="327.6" stroke-width="8.8"/><line x1="369.5" y1="344.7" x2="415.0" y2="344.7" stroke-width="8.8"/><line x1="368.5" y1="369.3" x2="416.5" y2="369.3" stroke-width="8.8"/><circle cx="367.8" cy="410.5" r="4.4"/><circle cx="374.9" cy="410.5" r="4.4"/><circle cx="381.9" cy="410.5" r="4.4"/><circle cx="389.0" cy="410.5" r="4.4"/><circle cx="396.0" cy="410.5" r="4.4"/><circle cx="403.1" cy="410.5" r="4.4"/><circle cx="410.1" cy="410.5" r="4.4"/><circle cx="417.2" cy="410.5" r="4.4"/><circle cx="392.4" cy="122.8" r="4.4"/><circle cx="392.4" cy="186.4" r="4.4"/><circle cx="397.6" cy="199.2" r="4.4"/><circle cx="387.2" cy="204.9" r="4.4"/><circle cx="376.9" cy="215.0" r="4.4"/><circle cx="407.7" cy="217.4" r="4.4"/><circle cx="387.2" cy="222.5" r="4.4"/><circle cx="397.5" cy="225.3" r="4.4"/><circle cx="369.4" cy="231.1" r="4.4"/><circle cx="415.5" cy="231.1" r="4.4"/><circle cx="406.1" cy="233.8" r="4.4"/><circle cx="378.4" cy="236.8" r="4.4"/><circle cx="387.9" cy="236.8" r="4.4"/><circle cx="397.1" cy="236.8" r="4.4"/><circle cx="378.4" cy="240.0" r="4.4"/><circle cx="387.9" cy="240.0" r="4.4"/><circle cx="397.1" cy="240.0" r="4.4"/><circle cx="413.1" cy="267.1" r="4.4"/></g>
<g fill="#bf2360" stroke="#bf2360" stroke-linecap="round" stroke-width="0"><line x1="579.3" y1="310.7" x2="625.4" y2="310.7" stroke-width="8.8"/><line x1="578.1" y1="348.6" x2="626.7" y2="348.6" stroke-width="8.8"/><line x1="580.1" y1="413.3" x2="624.0" y2="413.3" stroke-width="8.8"/><circle cx="601.8" cy="246.0" r="4.4"/><circle cx="596.5" cy="283.7" r="4.4"/><circle cx="607.0" cy="283.7" r="4.4"/></g>
<g fill="#2d3896" stroke="#2d3896" stroke-linecap="round" stroke-width="0"><line x1="660.9" y1="310.7" x2="712.0" y2="310.7" stroke-width="5.4"/><line x1="663.7" y1="349.0" x2="708.8" y2="349.0" stroke-width="5.4"/><line x1="660.3" y1="413.3" x2="712.5" y2="413.3" stroke-width="5.4"/><circle cx="686.3" cy="77.9" r="2.7"/><circle cx="686.3" cy="197.9" r="2.7"/><circle cx="683.2" cy="208.0" r="2.7"/><circle cx="689.1" cy="208.0" r="2.7"/><circle cx="686.3" cy="231.6" r="2.7"/><circle cx="683.2" cy="245.9" r="2.7"/><circle cx="689.1" cy="245.9" r="2.7"/><circle cx="680.0" cy="262.7" r="2.7"/><circle cx="685.9" cy="262.7" r="2.7"/><circle cx="691.6" cy="262.7" r="2.7"/><circle cx="675.8" cy="283.8" r="2.7"/><circle cx="681.1" cy="283.8" r="2.7"/><circle cx="686.3" cy="283.8" r="2.7"/><circle cx="691.6" cy="283.8" r="2.7"/><circle cx="696.8" cy="283.8" r="2.7"/></g>
<g fill="#48b910" stroke="#48b910" stroke-linecap="round" stroke-width="0"><line x1="746.5" y1="310.7" x2="794.2" y2="310.7" stroke-width="8.8"/><line x1="746.5" y1="348.8" x2="794.2" y2="348.8" stroke-width="8.8"/><line x1="746.6" y1="413.3" x2="795.0" y2="413.3" stroke-width="8.8"/><circle cx="770.5" cy="148.0" r="4.4"/><circle cx="770.5" cy="166.7" r="4.4"/><circle cx="770.5" cy="231.6" r="4.4"/><circle cx="770.5" cy="245.9" r="4.4"/><circle cx="765.7" cy="262.7" r="4.4"/><circle cx="775.8" cy="262.7" r="4.4"/><circle cx="765.7" cy="283.8" r="4.4"/><circle cx="775.8" cy="283.8" r="4.4"/></g>
<g fill="#f27b22" stroke="#f27b22" stroke-linecap="round" stroke-width="0"><line x1="830.5" y1="310.7" x2="878.9" y2="310.7" stroke-width="8.4"/><line x1="831.3" y1="348.8" x2="878.6" y2="348.8" stroke-width="8.4"/><line x1="830.0" y1="413.3" x2="879.2" y2="413.3" stroke-width="8.4"/><circle cx="854.7" cy="154.1" r="4.2"/><circle cx="854.7" cy="283.8" r="4.2"/></g>
<g fill="#bf2360" stroke="#bf2360" stroke-linecap="round" stroke-width="0"><line x1="1036.5" y1="295.8" x2="1040.3" y2="295.8" stroke-width="8.8"/><line x1="1077.9" y1="295.8" x2="1082.2" y2="295.8" stroke-width="8.8"/><line x1="1043.6" y1="304.8" x2="1075.1" y2="304.8" stroke-width="8.8"/><line x1="1036.2" y1="329.3" x2="1082.5" y2="329.3" stroke-width="8.8"/><line x1="1036.2" y1="412.1" x2="1082.5" y2="412.1" stroke-width="8.8"/><circle cx="1036.4" cy="315.8" r="4.4"/><circle cx="1041.5" cy="315.8" r="4.4"/><circle cx="1046.6" cy="315.8" r="4.4"/><circle cx="1051.7" cy="315.8" r="4.4"/><circle cx="1056.8" cy="315.8" r="4.4"/><circle cx="1062.0" cy="315.8" r="4.4"/><circle cx="1067.1" cy="315.8" r="4.4"/><circle cx="1072.2" cy="315.8" r="4.4"/><circle cx="1077.3" cy="315.8" r="4.4"/><circle cx="1082.4" cy="315.8" r="4.4"/><circle cx="1036.6" cy="370.5" r="4.4"/><circle cx="1041.7" cy="370.5" r="4.4"/><circle cx="1046.7" cy="370.5" r="4.4"/><circle cx="1051.8" cy="370.5" r="4.4"/><circle cx="1056.9" cy="370.5" r="4.4"/><circle cx="1061.9" cy="370.5" r="4.4"/><circle cx="1067.0" cy="370.5" r="4.4"/><circle cx="1072.1" cy="370.5" r="4.4"/><circle cx="1077.1" cy="370.5" r="4.4"/><circle cx="1082.2" cy="370.5" r="4.4"/><circle cx="1059.2" cy="249.8" r="4.4"/><circle cx="1036.0" cy="258.5" r="4.4"/><circle cx="1045.4" cy="262.9" r="4.4"/><circle cx="1054.4" cy="262.6" r="4.4"/><circle cx="1063.7" cy="263.0" r="4.4"/><circle cx="1073.0" cy="258.5" r="4.4"/><circle cx="1082.2" cy="258.5" r="4.4"/><circle cx="1054.0" cy="268.9" r="4.4"/><circle cx="1064.2" cy="274.2" r="4.4"/><circle cx="1080.0" cy="280.4" r="4.4"/><circle cx="1033.3" cy="287.5" r="4.4"/><circle cx="1048.7" cy="287.5" r="4.4"/><circle cx="1069.6" cy="287.5" r="4.4"/><circle cx="1054.0" cy="295.8" r="4.4"/><circle cx="1064.2" cy="295.8" r="4.4"/><circle cx="1038.2" cy="346.3" r="4.4"/><circle cx="1048.7" cy="346.3" r="4.4"/><circle cx="1059.2" cy="346.3" r="4.4"/><circle cx="1069.7" cy="346.3" r="4.4"/><circle cx="1079.9" cy="346.3" r="4.4"/></g>
<g fill="#2d3896" stroke="#2d3896" stroke-linecap="round" stroke-width="0"><line x1="1120.8" y1="254.0" x2="1122.1" y2="254.0" stroke-width="8.8"/><line x1="1160.3" y1="254.0" x2="1166.4" y2="254.0" stroke-width="8.8"/><line x1="1128.7" y1="258.3" x2="1132.2" y2="258.3" stroke-width="8.8"/><line x1="1155.9" y1="258.3" x2="1159.4" y2="258.3" stroke-width="8.8"/><line x1="1134.8" y1="263.6" x2="1151.5" y2="263.6" stroke-width="8.8"/><line x1="1119.9" y1="268.4" x2="1122.1" y2="268.4" stroke-width="8.8"/><line x1="1161.1" y1="268.4" x2="1167.2" y2="268.4" stroke-width="8.8"/><line x1="1126.4" y1="273.9" x2="1157.2" y2="273.9" stroke-width="8.8"/><line x1="1120.8" y1="280.5" x2="1166.4" y2="280.5" stroke-width="8.8"/><line x1="1126.1" y1="287.5" x2="1161.1" y2="287.5" stroke-width="8.8"/><line x1="1120.8" y1="295.4" x2="1166.4" y2="295.4" stroke-width="8.8"/><line x1="1128.9" y1="304.7" x2="1159.8" y2="304.7" stroke-width="8.8"/><line x1="1121.0" y1="315.8" x2="1166.4" y2="315.8" stroke-width="8.8"/><line x1="1120.4" y1="329.3" x2="1166.7" y2="329.3" stroke-width="8.8"/><line x1="1119.4" y1="346.3" x2="1167.4" y2="346.3" stroke-width="8.8"/><line x1="1122.9" y1="370.5" x2="1164.0" y2="370.5" stroke-width="8.8"/><line x1="1127.1" y1="412.1" x2="1160.1" y2="412.1" stroke-width="8.8"/><circle cx="1143.4" cy="148.2" r="4.4"/><circle cx="1143.4" cy="163.9" r="4.4"/><circle cx="1143.4" cy="176.5" r="4.4"/><circle cx="1138.3" cy="185.4" r="4.4"/><circle cx="1148.6" cy="192.6" r="4.4"/><circle cx="1128.0" cy="202.5" r="4.4"/><circle cx="1138.3" cy="206.5" r="4.4"/><circle cx="1148.6" cy="206.5" r="4.4"/><circle cx="1159.0" cy="200.8" r="4.4"/><circle cx="1122.8" cy="214.4" r="4.4"/><circle cx="1133.1" cy="221.8" r="4.4"/><circle cx="1164.2" cy="219.5" r="4.4"/><circle cx="1153.7" cy="224.2" r="4.4"/><circle cx="1138.3" cy="229.8" r="4.4"/><circle cx="1148.4" cy="229.8" r="4.4"/><circle cx="1163.8" cy="229.8" r="4.4"/><circle cx="1123.0" cy="235.1" r="4.4"/><circle cx="1129.1" cy="235.1" r="4.4"/><circle cx="1134.5" cy="237.0" r="4.4"/><circle cx="1140.5" cy="239.0" r="4.4"/><circle cx="1146.5" cy="239.5" r="4.4"/><circle cx="1152.0" cy="238.0" r="4.4"/><circle cx="1157.5" cy="237.0" r="4.4"/><circle cx="1161.0" cy="236.0" r="4.4"/><circle cx="1118.6" cy="242.5" r="4.4"/><circle cx="1124.0" cy="245.5" r="4.4"/><circle cx="1128.0" cy="247.0" r="4.4"/><circle cx="1133.0" cy="247.5" r="4.4"/><circle cx="1140.5" cy="249.6" r="4.4"/><circle cx="1146.6" cy="249.6" r="4.4"/><circle cx="1152.8" cy="247.8" r="4.4"/><circle cx="1160.2" cy="245.2" r="4.4"/><circle cx="1167.3" cy="245.2" r="4.4"/></g>
<g fill="#48b910" stroke="#48b910" stroke-linecap="round" stroke-width="0"><line x1="1207.7" y1="237.3" x2="1247.2" y2="237.3" stroke-width="8.8"/><line x1="1203.8" y1="253.8" x2="1211.7" y2="253.8" stroke-width="8.8"/><line x1="1245.0" y1="253.8" x2="1251.3" y2="253.8" stroke-width="8.8"/><line x1="1222.6" y1="257.3" x2="1241.0" y2="257.3" stroke-width="8.8"/><line x1="1225.3" y1="263.0" x2="1230.1" y2="263.0" stroke-width="8.8"/><line x1="1207.6" y1="268.3" x2="1212.8" y2="268.3" stroke-width="8.8"/><line x1="1242.2" y1="268.3" x2="1247.9" y2="268.3" stroke-width="8.8"/><line x1="1216.8" y1="273.2" x2="1239.1" y2="273.2" stroke-width="8.8"/><line x1="1203.6" y1="280.2" x2="1251.4" y2="280.2" stroke-width="8.8"/><line x1="1211.1" y1="287.6" x2="1246.1" y2="287.6" stroke-width="8.8"/><line x1="1203.6" y1="295.5" x2="1251.4" y2="295.5" stroke-width="8.8"/><line x1="1213.9" y1="304.9" x2="1240.3" y2="304.9" stroke-width="8.8"/><line x1="1203.7" y1="315.8" x2="1251.7" y2="315.8" stroke-width="8.8"/><line x1="1203.7" y1="329.3" x2="1251.7" y2="329.3" stroke-width="8.8"/><line x1="1207.0" y1="346.3" x2="1248.5" y2="346.3" stroke-width="8.8"/><line x1="1208.3" y1="370.5" x2="1247.2" y2="370.5" stroke-width="8.8"/><line x1="1204.4" y1="412.1" x2="1251.4" y2="412.1" stroke-width="8.8"/><circle cx="1227.8" cy="91.0" r="4.4"/><circle cx="1227.8" cy="165.9" r="4.4"/><circle cx="1222.5" cy="172.0" r="4.4"/><circle cx="1233.1" cy="181.5" r="4.4"/><circle cx="1227.8" cy="192.6" r="4.4"/><circle cx="1238.1" cy="224.2" r="4.4"/><circle cx="1217.4" cy="226.6" r="4.4"/><circle cx="1227.7" cy="226.6" r="4.4"/><circle cx="1232.5" cy="232.3" r="4.4"/><circle cx="1250.7" cy="242.6" r="4.4"/><circle cx="1209.0" cy="246.3" r="4.4"/><circle cx="1223.1" cy="246.8" r="4.4"/><circle cx="1241.5" cy="246.3" r="4.4"/><circle cx="1232.3" cy="249.8" r="4.4"/></g>
<g fill="#ec5a1e" stroke="#ec5a1e" stroke-linecap="round" stroke-width="0"><line x1="1301.4" y1="246.3" x2="1325.6" y2="246.3" stroke-width="8.8"/><line x1="1289.2" y1="254.1" x2="1293.1" y2="254.1" stroke-width="8.8"/><line x1="1330.4" y1="254.1" x2="1334.8" y2="254.1" stroke-width="8.8"/><line x1="1307.2" y1="263.1" x2="1317.3" y2="263.1" stroke-width="8.8"/><line x1="1328.3" y1="268.6" x2="1333.9" y2="268.6" stroke-width="8.8"/><line x1="1291.8" y1="280.8" x2="1332.5" y2="280.8" stroke-width="8.8"/><line x1="1301.0" y1="287.6" x2="1322.9" y2="287.6" stroke-width="8.8"/><line x1="1291.4" y1="295.7" x2="1297.7" y2="295.7" stroke-width="8.8"/><line x1="1326.2" y1="295.7" x2="1332.5" y2="295.7" stroke-width="8.8"/><line x1="1300.4" y1="305.2" x2="1323.9" y2="305.2" stroke-width="8.8"/><line x1="1288.1" y1="315.9" x2="1335.8" y2="315.9" stroke-width="8.8"/><line x1="1287.7" y1="329.5" x2="1336.2" y2="329.5" stroke-width="8.8"/><line x1="1288.1" y1="346.4" x2="1335.8" y2="346.4" stroke-width="8.8"/><line x1="1289.7" y1="370.9" x2="1334.6" y2="370.9" stroke-width="8.8"/><line x1="1289.7" y1="412.1" x2="1334.6" y2="412.1" stroke-width="8.8"/><circle cx="1297.6" cy="273.6" r="4.4"/><circle cx="1303.0" cy="273.6" r="4.4"/><circle cx="1308.3" cy="273.6" r="4.4"/><circle cx="1313.7" cy="273.6" r="4.4"/><circle cx="1319.0" cy="273.6" r="4.4"/><circle cx="1312.0" cy="126.3" r="4.4"/><circle cx="1317.2" cy="202.7" r="4.4"/><circle cx="1306.8" cy="210.4" r="4.4"/><circle cx="1322.3" cy="216.8" r="4.4"/><circle cx="1301.6" cy="219.2" r="4.4"/><circle cx="1311.9" cy="221.6" r="4.4"/><circle cx="1291.3" cy="229.7" r="4.4"/><circle cx="1332.7" cy="229.7" r="4.4"/><circle cx="1301.6" cy="235.6" r="4.4"/><circle cx="1322.3" cy="235.6" r="4.4"/><circle cx="1291.8" cy="242.3" r="4.4"/><circle cx="1306.8" cy="242.3" r="4.4"/><circle cx="1316.8" cy="242.3" r="4.4"/><circle cx="1297.5" cy="244.7" r="4.4"/><circle cx="1302.8" cy="247.3" r="4.4"/><circle cx="1308.5" cy="251.2" r="4.4"/><circle cx="1314.2" cy="251.7" r="4.4"/><circle cx="1319.5" cy="250.8" r="4.4"/><circle cx="1326.5" cy="244.7" r="4.4"/><circle cx="1332.2" cy="244.7" r="4.4"/><circle cx="1331.8" cy="247.7" r="4.4"/><circle cx="1300.6" cy="257.8" r="4.4"/><circle cx="1323.9" cy="257.8" r="4.4"/><circle cx="1289.4" cy="268.4" r="4.4"/></g>
<g fill="#000"><circle cx="560.4" cy="413.1" r="2.5"/><circle cx="570.7" cy="413.1" r="2.5"/><circle cx="632.4" cy="413.1" r="2.5"/><circle cx="642.8" cy="413.1" r="2.5"/><circle cx="653.4" cy="413.1" r="2.5"/><circle cx="715.7" cy="413.1" r="2.5"/><circle cx="725.6" cy="413.1" r="2.5"/><circle cx="736.2" cy="413.1" r="2.5"/><circle cx="808.4" cy="413.1" r="2.5"/><circle cx="818.8" cy="413.1" r="2.5"/><circle cx="891.5" cy="413.1" r="2.5"/></g>
<g stroke="#000" stroke-width="2.2"><line x1="139.6" y1="293.9" x2="139.6" y2="369.1"/><line x1="125.9" y1="293.9" x2="153.3" y2="293.9"/><line x1="125.9" y1="369.1" x2="153.3" y2="369.1"/><line x1="111.4" y1="327.5" x2="167.5" y2="327.5"/></g>
<g stroke="#000" stroke-width="2.2"><line x1="223.9" y1="272.5" x2="223.9" y2="344.6"/><line x1="210.1" y1="272.5" x2="237.7" y2="272.5"/><line x1="210.1" y1="344.6" x2="237.7" y2="344.6"/><line x1="195.9" y1="303.5" x2="252.0" y2="303.5"/></g>
<g stroke="#000" stroke-width="2.2"><line x1="307.9" y1="278.9" x2="307.9" y2="327.6"/><line x1="294.2" y1="278.9" x2="321.6" y2="278.9"/><line x1="294.2" y1="327.6" x2="321.6" y2="327.6"/><line x1="280.2" y1="303.3" x2="336.2" y2="303.3"/></g>
<g stroke="#000" stroke-width="2.2"><line x1="392.3" y1="272.5" x2="392.3" y2="327.6"/><line x1="378.3" y1="272.5" x2="406.3" y2="272.5"/><line x1="378.3" y1="327.6" x2="406.3" y2="327.6"/><line x1="364.1" y1="303.3" x2="420.6" y2="303.3"/></g>
<g stroke="#000" stroke-width="2.2"><line x1="601.9" y1="310.7" x2="601.9" y2="413.1"/><line x1="587.9" y1="310.7" x2="615.9" y2="310.7"/><line x1="587.9" y1="413.1" x2="615.9" y2="413.1"/><line x1="575.7" y1="413.1" x2="628.4" y2="413.1"/></g>
<g stroke="#000" stroke-width="2.2"><line x1="686.3" y1="310.7" x2="686.3" y2="413.3"/><line x1="672.3" y1="310.7" x2="700.3" y2="310.7"/><line x1="672.3" y1="413.3" x2="700.3" y2="413.3"/><line x1="658.2" y1="349.0" x2="714.4" y2="349.0"/></g>
<g stroke="#000" stroke-width="2.2"><line x1="770.4" y1="310.7" x2="770.4" y2="413.3"/><line x1="756.4" y1="310.7" x2="784.4" y2="310.7"/><line x1="756.4" y1="413.3" x2="784.4" y2="413.3"/><line x1="742.1" y1="348.8" x2="798.6" y2="348.8"/></g>
<g stroke="#000" stroke-width="2.2"><line x1="854.9" y1="348.8" x2="854.9" y2="413.1"/><line x1="840.9" y1="348.8" x2="868.9" y2="348.8"/><line x1="840.9" y1="413.1" x2="868.9" y2="413.1"/><line x1="825.8" y1="413.1" x2="883.4" y2="413.1"/></g>
<g stroke="#000" stroke-width="2.2"><line x1="1058.9" y1="304.8" x2="1058.9" y2="412.1"/><line x1="1045.0" y1="304.8" x2="1072.8" y2="304.8"/><line x1="1045.0" y1="412.1" x2="1072.8" y2="412.1"/><line x1="1031.3" y1="329.3" x2="1087.1" y2="329.3"/></g>
<g stroke="#000" stroke-width="2.2"><line x1="1143.7" y1="280.5" x2="1143.7" y2="370.5"/><line x1="1129.9" y1="280.5" x2="1157.5" y2="280.5"/><line x1="1129.9" y1="370.5" x2="1157.5" y2="370.5"/><line x1="1115.5" y1="315.7" x2="1171.6" y2="315.7"/></g>
<g stroke="#000" stroke-width="2.2"><line x1="1227.6" y1="287.6" x2="1227.6" y2="370.5"/><line x1="1213.7" y1="287.6" x2="1241.5" y2="287.6"/><line x1="1213.7" y1="370.5" x2="1241.5" y2="370.5"/><line x1="1199.3" y1="329.3" x2="1256.1" y2="329.3"/></g>
<g stroke="#000" stroke-width="2.2"><line x1="1311.9" y1="280.6" x2="1311.9" y2="346.4"/><line x1="1298.0" y1="280.6" x2="1325.8" y2="280.6"/><line x1="1298.0" y1="346.4" x2="1325.8" y2="346.4"/><line x1="1283.7" y1="315.9" x2="1340.2" y2="315.9"/></g>
</svg>
</body></html>
